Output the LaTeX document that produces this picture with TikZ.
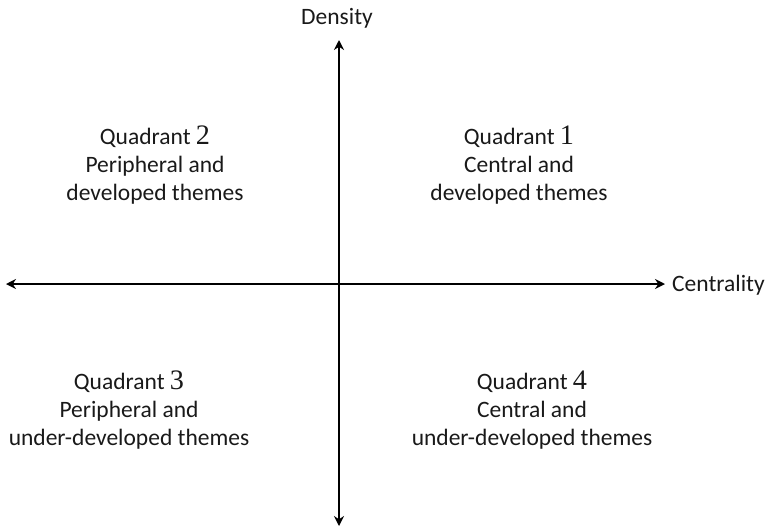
\documentclass[tikz,border=0pt]{standalone}
\usepackage{fontspec}
\setmainfont{Carlito}
\newfontfamily\numfont[Scale=1.2]{Liberation Serif}
\usetikzlibrary{arrows.meta}
\begin{document}
\begin{tikzpicture}[x=1pt,y=-1pt,
  axis/.style={line width=2.8pt,{Stealth[length=10pt,width=10pt]}-{Stealth[length=10pt,width=10pt]}},
  lab/.style={font=\fontsize{23.5}{28}\selectfont,text=black!90,inner sep=0pt},
  quad/.style={lab,align=center}]
\useasboundingbox (0,0) rectangle (766,528);
\coordinate (top) at (339,40);
\coordinate (bot) at (339,526);
\coordinate (left) at (6,284);
\coordinate (right) at (665,284);
\draw[axis] (bot) -- (top);
\draw[axis] (left) -- (right);
\node[lab] (dens) at (337,18) {Density};
\node[lab,anchor=west] (cent) at (672,285) {Centrality};
\node[quad] (q1) at (519,165) {Quadrant {\numfont 1}\\Central and\\developed themes};
\node[quad] (q2) at (155,165) {Quadrant {\numfont 2}\\Peripheral and\\developed themes};
\node[quad] (q3) at (129,410) {Quadrant {\numfont 3}\\Peripheral and\\under-developed themes};
\node[quad] (q4) at (532,410) {Quadrant {\numfont 4}\\Central and\\under-developed themes};
\end{tikzpicture}
\end{document}
